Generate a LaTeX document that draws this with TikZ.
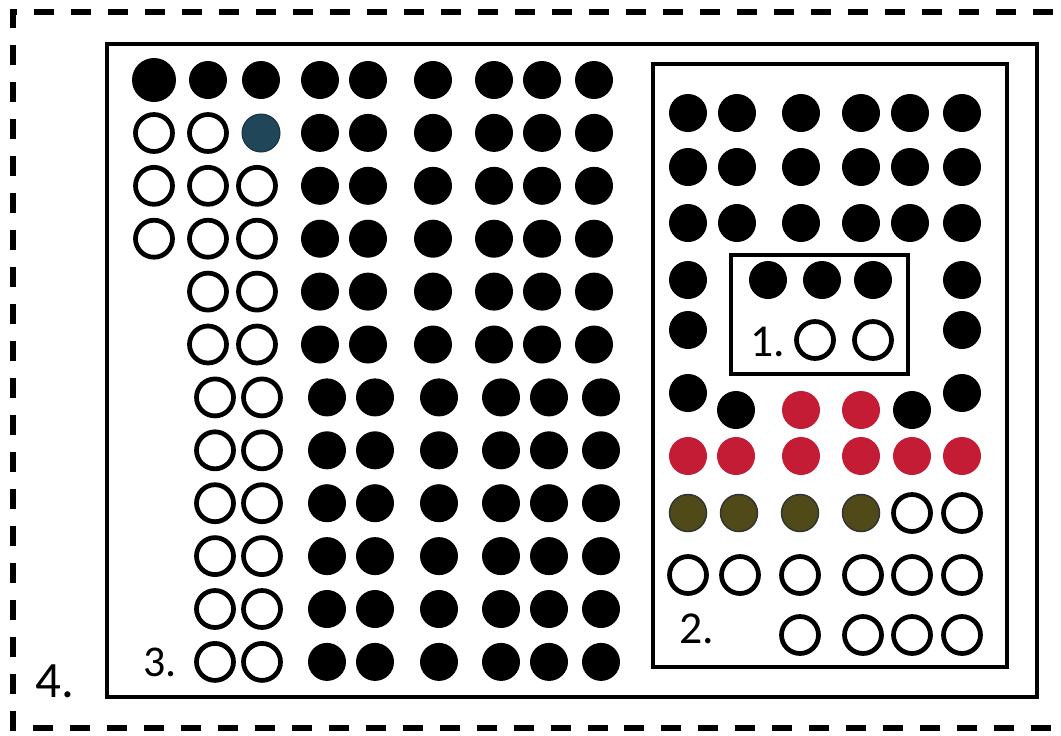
\documentclass[tikz,border=0pt]{standalone}
\usepackage{fontspec}
\setmainfont{Carlito}
\definecolor{dotred}{RGB}{196,28,52}
\definecolor{dotolive}{RGB}{80,74,24}
\definecolor{dotblue}{RGB}{32,70,90}
\begin{document}
\begin{tikzpicture}[x=0.02cm,y=-0.02cm,
  fdot/.style={circle,fill=black,inner sep=0pt,minimum size=0.76cm},
  odot/.style={circle,draw=black,line width=0.095cm,fill=white,inner sep=0pt,minimum size=0.74cm},
  rdot/.style={circle,fill=dotred,inner sep=0pt,minimum size=0.76cm},
  ydot/.style={circle,fill=dotolive,draw=black!80,line width=0.03cm,inner sep=0pt,minimum size=0.74cm},
  bdot/.style={circle,fill=dotblue,draw=dotblue!70!black,line width=0.02cm,inner sep=0pt,minimum size=0.76cm},
  frame/.style={draw=black,line width=0.095cm},
  dashframe/.style={draw=black,line width=0.11cm,dash pattern=on 0.4cm off 0.34cm},
  lbl/.style={anchor=base west,inner sep=0pt,font=\fontsize{26}{30}\selectfont}]
\useasboundingbox (0,0) rectangle (1061,735);
\clip (0,0) rectangle (1061,735);
% outer dashed frame (4.)
\draw[dashframe] (1090,12) -- (13,12) -- (13,728) -- (1090,728);
\node[lbl,font=\fontsize{29}{33}\selectfont] (t4) at (35,697) {4.};
% main frame
\draw[frame] (107,44) rectangle (1037,697);
% box 2
\draw[frame] (653,64) rectangle (1007,667);
% box 1
\draw[draw=black,line width=0.075cm] (731,255) rectangle (908,374);

% ---- left grid ----
\foreach \r in {1,...,6}
  \foreach \x [count=\c] in {320,368,433,494,542,594}
    \node[fdot] (L\r-\c) at (\x,{80+52.9*(\r-1)}) {};
\foreach \r in {7,...,12}
  \foreach \x [count=\c] in {327,375,439,501,549,601}
    \node[fdot] (L\r-\c) at (\x,{80+52.9*(\r-1)}) {};
% left-most columns
\node[fdot,minimum size=0.88cm] (A1-1) at (154,80) {};
\node[fdot] (A1-2) at (208,80) {};
\node[fdot] (A1-3) at (261,80) {};
\node[odot] (A2-1) at (154,133) {};
\node[odot] (A2-2) at (208,133) {};
\node[bdot] (A2-3) at (261,133) {};
\foreach \r in {3,4}
  \foreach \x [count=\c] in {154,208,257}
    \node[odot] (A\r-\c) at (\x,{80+52.9*(\r-1)}) {};
\foreach \r in {5,6}
  \foreach \x [count=\c] in {208,257}
    \node[odot] (A\r-\c) at (\x,{80+52.9*(\r-1)}) {};
\foreach \r in {7,...,12}
  \foreach \x [count=\c] in {215,262}
    \node[odot] (A\r-\c) at (\x,{80+52.9*(\r-1)}) {};
\node[lbl,font=\fontsize{25}{29}\selectfont] (t3) at (143,676) {3.};

% ---- box 2 grid ----
\foreach \y [count=\r] in {113,167,223}
  \foreach \x [count=\c] in {688,737,801,861,910,962}
    \node[fdot] (B\r-\c) at (\x,\y) {};
\node[fdot] (B4-1) at (688,280) {};
\node[fdot] (B4-6) at (962,280) {};
\node[fdot] (B5-1) at (688,330) {};
\node[fdot] (B5-6) at (962,330) {};
% box 1 content
\node[fdot] (C1-1) at (768,280) {};
\node[fdot] (C1-2) at (822,280) {};
\node[fdot] (C1-3) at (873,280) {};
\node[lbl] (t1) at (750,356) {1.};
\node[odot] (C2-1) at (815,340) {};
\node[odot] (C2-2) at (873,340) {};
% row F
\node[fdot] (B6-1) at (688,393) {};
\node[fdot] (B6-2) at (736,410) {};
\node[rdot] (B6-3) at (801,410) {};
\node[rdot] (B6-4) at (861,410) {};
\node[fdot] (B6-5) at (912,410) {};
\node[fdot] (B6-6) at (962,393) {};
% row G
\foreach \x [count=\c] in {688,736,801,861,912,962}
  \node[rdot] (B7-\c) at (\x,456) {};
% row H
\foreach \x [count=\c] in {688,739,800,861}
  \node[ydot] (B8-\c) at (\x,513) {};
\node[odot] (B8-5) at (912,513) {};
\node[odot] (B8-6) at (962,513) {};
% row I
\foreach \x [count=\c] in {688,740,800,863,912,962}
  \node[odot] (B9-\c) at (\x,575) {};
% row J
\node[lbl] (t2) at (679,643) {2.};
\foreach \x [count=\c] in {800,863,912,962}
  \node[odot] (B10-\c) at (\x,635) {};
\end{tikzpicture}
\end{document}
